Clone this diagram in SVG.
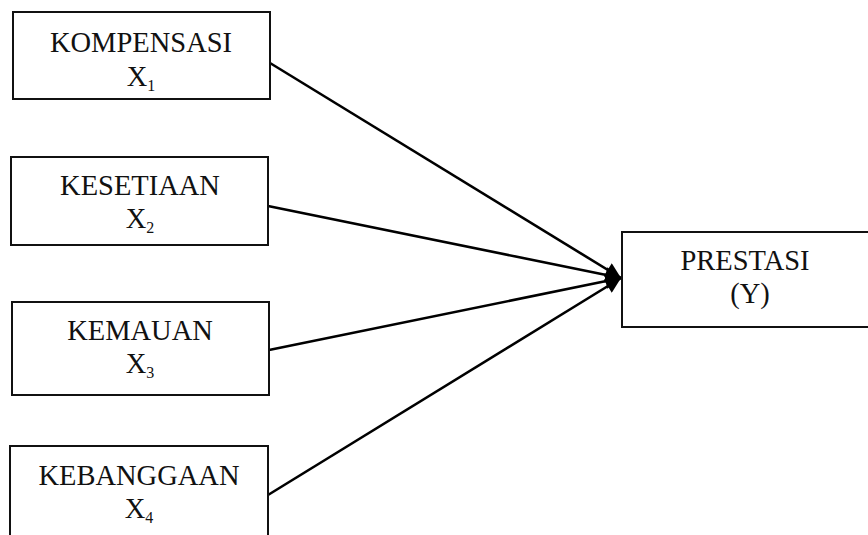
<svg xmlns="http://www.w3.org/2000/svg" width="868" height="535" viewBox="0 0 868 535">
<style>
.box{fill:#fff;stroke:#111;stroke-width:2}
.t{font-family:"Liberation Serif","Times New Roman",serif;font-size:28.5px;fill:#111;text-anchor:middle}
.sub{font-size:16px}
.c{stroke:#000;stroke-width:2.6;fill:none;marker-end:url(#ah)}
</style>
<defs>
<marker id="ah" viewBox="0 0 10 10" refX="10" refY="5" markerWidth="7" markerHeight="6" orient="auto" markerUnits="strokeWidth">
<path d="M0,0 L10,5 L0,10 z" fill="#000"/>
</marker>
</defs>
<rect width="868" height="535" fill="#fff"/>
<g id="connectors">
<line class="c" x1="270" y1="63" x2="621" y2="278"/>
<line class="c" x1="268" y1="206" x2="621" y2="278"/>
<line class="c" x1="269" y1="350" x2="621" y2="278"/>
<line class="c" x1="268" y1="495" x2="621" y2="278"/>
</g>
<g id="x1">
<rect class="box" x="13" y="12" width="257" height="87"/>
<text class="t" x="141" y="52">KOMPENSASI</text>
<text class="t" x="141" y="86">X<tspan class="sub" dy="5">1</tspan></text>
</g>
<g id="x2">
<rect class="box" x="11" y="157" width="257" height="88"/>
<text class="t" x="140" y="195">KESETIAAN</text>
<text class="t" x="140" y="228">X<tspan class="sub" dy="5">2</tspan></text>
</g>
<g id="x3">
<rect class="box" x="12" y="302" width="257" height="93"/>
<text class="t" x="140" y="340">KEMAUAN</text>
<text class="t" x="140" y="373">X<tspan class="sub" dy="5">3</tspan></text>
</g>
<g id="x4">
<rect class="box" x="10" y="446" width="258" height="100"/>
<text class="t" x="139" y="485">KEBANGGAAN</text>
<text class="t" x="139" y="518">X<tspan class="sub" dy="5">4</tspan></text>
</g>
<g id="y">
<rect class="box" x="622" y="232" width="260" height="95"/>
<text class="t" x="745" y="270">PRESTASI</text>
<text class="t" x="750" y="303">(Y)</text>
</g>
</svg>
